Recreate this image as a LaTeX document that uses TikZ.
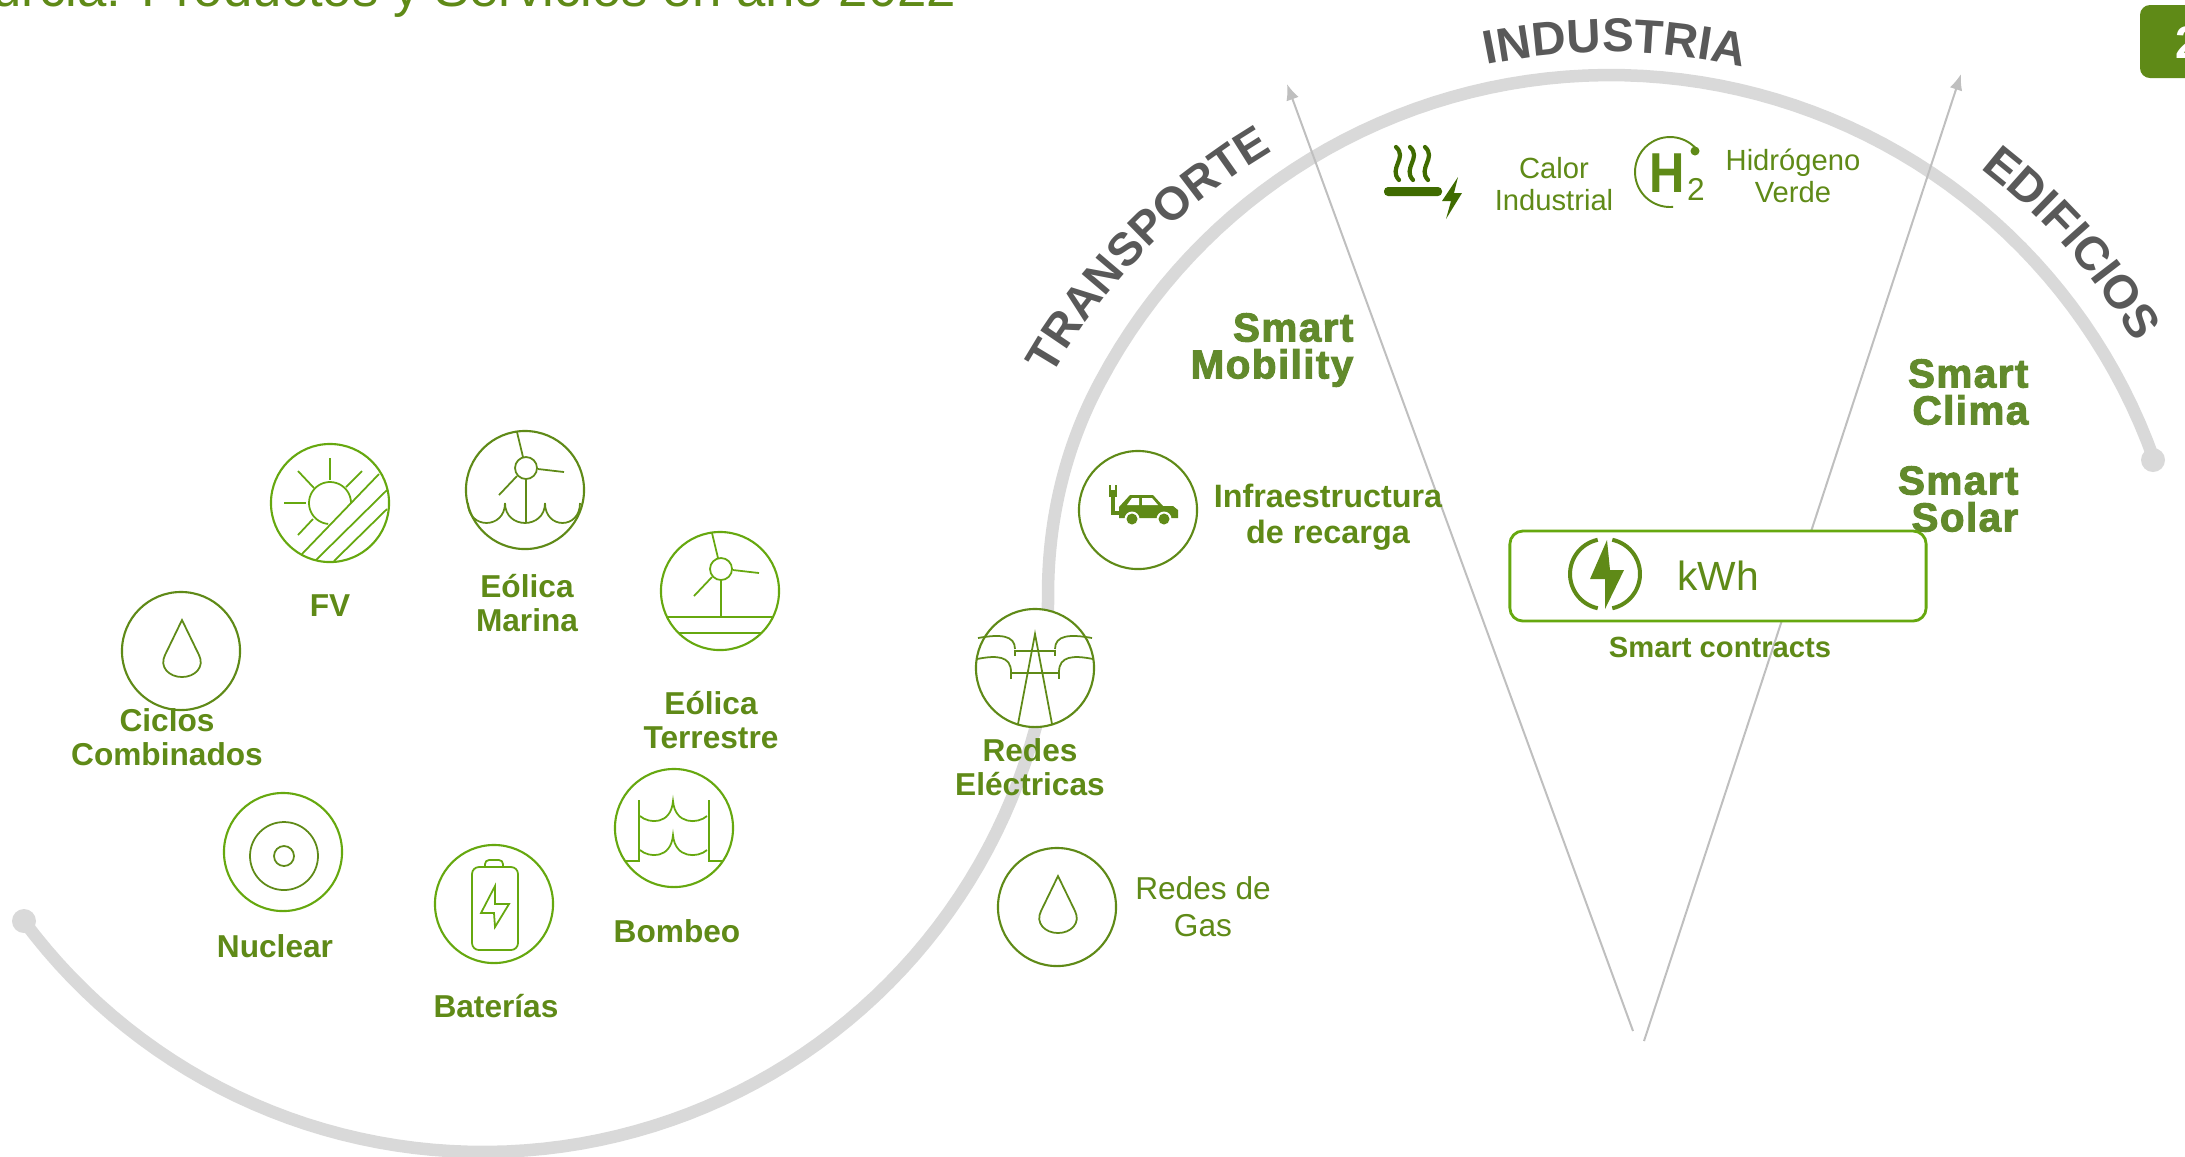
\documentclass[tikz,border=0pt]{standalone}
\usepackage{fontspec}
\usepackage{xcolor}
\usetikzlibrary{arrows.meta}
\usetikzlibrary{decorations.text}
\setmainfont{Liberation Sans}
\newfontfamily\smartfont[FakeBold=2.5,LetterSpace=3.5]{Liberation Sans Bold}
\definecolor{labelgreen}{HTML}{5F8A17}
\definecolor{ringgreen}{HTML}{66A80F}
\definecolor{heatgreen}{HTML}{3F6B00}
\definecolor{smartgreen}{HTML}{628A2C}
\definecolor{arcgrey}{HTML}{D9D9D9}
\definecolor{linegrey}{HTML}{BFBFBF}
\definecolor{wordgrey}{HTML}{595959}
\tikzset{
  iconring/.style={circle,draw=ringgreen,fill=white,line width=0.6pt,minimum size=1.18cm,inner sep=0pt},
  darkring/.style={iconring,draw=labelgreen},
  iconlight/.style={line width=0.5pt,color=ringgreen},
  icondark/.style={line width=0.5pt,color=labelgreen},
  boldlabel/.style={text=labelgreen,font=\bfseries\fontsize{9}{9.75}\selectfont,align=center,inner sep=0pt},
  plainlabel/.style={text=labelgreen,font=\fontsize{8.3}{9.1}\selectfont,align=center,inner sep=0pt},
  smartlabel/.style={text=smartgreen,font=\smartfont\fontsize{11.5}{10.5}\selectfont,align=right,inner sep=0pt},
  sectorline/.style={linegrey,line width=0.02cm,-{Latex[length=0.16cm,width=0.13cm]}},
}
\newcommand{\bowl}[4]{\draw (#1,#3) .. controls (#1,{#3+1.33*(#4-#3)}) and (#2,{#3+1.33*(#4-#3)}) .. (#2,#3);}
\newcommand{\droplet}{\draw (1,-31) -- (-16,4) .. controls (-22,16) and (-12,26) .. (1,26) .. controls (14,26) and (24,16) .. (18,4) -- cycle;}
\newcommand{\turbine}{
  \draw (1,-22) circle[radius=11];
  \draw (1,-11) -- (1,26);
  \draw (-2,-33) -- (-8,-58);
  \draw (13,-21) -- (39,-18);
  \draw (-8,-14) -- (-26,5);
}
\begin{document}
\begin{tikzpicture}[x=0.01cm,y=-0.01cm]
\useasboundingbox (0,0) rectangle (2185,1156);

% title and page mark, both cut by the page
\node (titletext) [anchor=base east,inner sep=0pt,text=labelgreen,font=\fontsize{15}{15}\selectfont] at (957,6) {urcia: Productos y Servicios en año 2022};
\fill[labelgreen,rounded corners=0.1cm] (2140,5) rectangle (2260,78);
\node (pagemark) [anchor=west,inner sep=0pt,text=white,font=\bfseries\fontsize{13}{13}\selectfont] at (2175,43) {2};

% the big grey curve
\draw[arcgrey,line width=0.125cm,line cap=round]
  plot[domain=340.5:208,samples=70] ({1610+577*cos(\x)},{652+577*sin(\x)})
  .. controls (1065,447) and (1048,520) .. (1048,595)
  .. controls (1048,640) and (1047,685) .. (1035.5,728)
  -- plot[domain=15:143.4,samples=70] ({483+572*cos(\x)},{580+572*sin(\x)});
\fill[arcgrey] (24,921) circle[radius=12];
\fill[arcgrey] (2153,460) circle[radius=12];

% sector lines
\coordinate (baseleft) at (1633,1031);
\coordinate (tipleft) at (1287,84);
\coordinate (baseright) at (1644,1041);
\coordinate (tipright) at (1961,74);
\draw[sectorline] (baseleft) -- (tipleft);
\draw[sectorline] (baseright) -- (tipright);

% words on the curve
\path[decorate,decoration={text along path,text align=center,text={|\bfseries\fontsize{13.2}{15}\selectfont\color{wordgrey}|TRANSPORTE}}]
  plot[domain=204.5:244.5,samples=40] ({1586+615*cos(\x)},{680+615*sin(\x)});
\path[decorate,decoration={text along path,text align=center,text={|\bfseries\fontsize{13.5}{15}\selectfont\color{wordgrey}|INDUSTRIA}}]
  plot[domain=250:291,samples=40] ({1610+600*cos(\x)},{652+600*sin(\x)});
\path[decorate,decoration={text along path,text align=center,text={|\bfseries\fontsize{13.4}{15}\selectfont\color{wordgrey}|EDIFICIOS}}]
  plot[domain=302:335,samples=40] ({1610+609*cos(\x)},{652+609*sin(\x)});

% generation
\node (ciclos) [darkring] at (181,651) {};
\node (fv) [iconring] at (330,503) {};
\node (marina) [darkring] at (525,490) {};
\node (terrestre) [iconring] at (720,591) {};
\node (nuclear) [iconring] at (283,852) {};
\node (baterias) [iconring] at (494,904) {};
\node (bombeo) [iconring] at (674,828) {};

\begin{scope}[shift={(ciclos)},icondark]
\droplet
\end{scope}

\begin{scope}[shift={(fv)},iconlight]
\draw plot[domain=0:-265,samples=40] ({21*cos(\x)},{21*sin(\x)});
\draw (0,-45) -- (0,-23);
\draw (-32,-32) -- (-16,-15);
\draw (32,-32) -- (16,-16);
\draw (-46,0) -- (-24,0);
\draw (-32,32) -- (-17,16);
\draw (49,-29) -- (-28,51);
\draw (57,-13) -- (-14,57);
\draw (57,6) -- (4,58);
\end{scope}

\begin{scope}[shift={(marina)},icondark]
\turbine
\draw (1,26) -- (1,33);
\bowl{-57}{-20}{13}{33}
\bowl{-20}{20}{13}{33}
\bowl{20}{55}{13}{33}
\end{scope}

\begin{scope}[shift={(terrestre)},iconlight]
\turbine
\draw (-53,26) -- (53,26);
\draw (-41,42) -- (41,42);
\end{scope}

\begin{scope}[shift={(nuclear)},icondark]
\draw (1,4) circle[radius=34];
\draw (1,4) circle[radius=10];
\end{scope}

\begin{scope}[shift={(baterias)},iconlight]
\draw[rounded corners=0.07cm] (-22,-37) rectangle (24,46);
\draw[rounded corners=0.04cm] (-9,-37) -- (-9,-44) -- (9,-44) -- (9,-37);
\draw (1,-18) -- (-13,9) -- (0,9) -- (1,23) -- (15,0) -- (1,0) -- cycle;
\end{scope}

\begin{scope}[shift={(bombeo)},iconlight]
\draw (-35,-28) -- (-35,33) -- (-49,33);
\draw (35,-28) -- (35,33) -- (49,33);
\draw (-34,-12) .. controls (-25,-4) and (-3,-3) .. (-1,-27) .. controls (1,-3) and (24,-4) .. (33,-12);
\draw (-34,22) .. controls (-25,30) and (-3,31) .. (-1,7) .. controls (1,31) and (24,30) .. (33,22);
\end{scope}

\node (ciclostext) [boldlabel] at (167,737) {Ciclos\\Combinados};
\node (fvtext) [boldlabel] at (330,606) {FV};
\node (marinatext) [boldlabel] at (527,603) {Eólica\\Marina};
\node (terrestretext) [boldlabel] at (711,720) {Eólica\\Terrestre};
\node (nucleartext) [boldlabel] at (275,946) {Nuclear};
\node (bateriastext) [boldlabel] at (496,1006) {Baterías};
\node (bombeotext) [boldlabel] at (677,931) {Bombeo};

% networks
\node (redes) [darkring] at (1035,668) {};
\node (gas) [darkring] at (1057,907) {};
\node (recarga) [darkring] at (1138,510) {};

\begin{scope}[shift={(redes)},icondark]
\draw (-17,56) -- (0,-34) -- (17,56);
\draw (-20,-12) -- (-20,-17) -- (20,-17) -- (20,-12);
\draw (-24,11) -- (-24,5) -- (24,5) -- (24,11);
\draw (-57,-30) .. controls (-35,-34) and (-20,-33) .. (-20,-19);
\draw (57,-30) .. controls (35,-34) and (20,-33) .. (20,-19);
\draw (-58,-9) .. controls (-38,-13) and (-24,-12) .. (-24,4);
\draw (58,-9) .. controls (38,-13) and (24,-12) .. (24,4);
\end{scope}

\begin{scope}[shift={(gas)},icondark]
\droplet
\end{scope}

\begin{scope}[shift={(recarga)}]
\fill[labelgreen] (-19,8) -- (-19,-3) -- (-8,-15) -- (15,-15) -- (25,-4) -- (35,-4) -- (40,0) -- (40,8) -- cycle;
\fill[white] (-11,-5) -- (-6,-12) -- (1,-12) -- (1,-5) -- cycle;
\fill[white] (4,-12) -- (14,-12) -- (20,-5) -- (4,-5) -- cycle;
\fill[white] (-6,9) circle[radius=7.5];
\fill[white] (26,9) circle[radius=7.5];
\fill[labelgreen] (-6,9) circle[radius=5.5];
\fill[labelgreen] (26,9) circle[radius=5.5];
\fill[labelgreen] (-29,-20) rectangle (-21,-13);
\draw[labelgreen,line width=0.6pt] (-28,-25) -- (-28,-20);
\draw[labelgreen,line width=0.6pt] (-22,-25) -- (-22,-20);
\draw[labelgreen,line width=1.1pt] (-25,-13) -- (-25,3) -- (-19,3);
\end{scope}

\node (redestext) [boldlabel] at (1030,767) {Redes\\Eléctricas};
\node (gastext) [plainlabel,font=\fontsize{9}{10.5}\selectfont] at (1203,907) {Redes de\\Gas};
\node (recargatext) [boldlabel,font=\bfseries\fontsize{9.2}{10.2}\selectfont] at (1328,517) {Infraestructura\\de recarga};

% smart words
\node (mobility) [smartlabel,anchor=east] at (1354,350) {Smart\\Mobility};
\node (clima) [smartlabel,anchor=east] at (2029,392) {Smart\\Clima};
\node (solar) [smartlabel,anchor=east] at (2019,499) {Smart\\Solar};

% heat and hydrogen
\fill[heatgreen,rounded corners=0.04cm] (1384,187) rectangle (1442,196);
\foreach \wavex in {1398,1412,1427}{
  \draw[heatgreen,line width=1.2pt,line cap=round] (\wavex-2,147) .. controls (\wavex+10,158) and (\wavex-10,168) .. (\wavex+1,180);
}
\fill[heatgreen] (1458,177) -- (1442,201) -- (1451,201) -- (1446,219) -- (1462,193) -- (1454,193) -- cycle;
\node (calortext) [plainlabel] at (1554,184) {Calor\\Industrial};

\draw[labelgreen,line width=0.55pt] plot[domain=-40:-275,samples=50] ({1670+35*cos(\x)},{172+35*sin(\x)});
\fill[labelgreen] (1695,151) circle[radius=4.5];
\node (hletter) [inner sep=0pt,text=labelgreen,font=\bfseries\fontsize{16}{16}\selectfont] at (1667.5,173.5) {\scalebox{0.87}[1]{H}};
\node (htwo) [inner sep=0pt,text=labelgreen,font=\fontsize{9}{9}\selectfont] at (1696,189) {2};
\node (hidrogenotext) [plainlabel] at (1793,176) {Hidrógeno\\Verde};

% contracts
\node (kwhbox) [draw=ringgreen,fill=white,line width=0.8pt,rounded corners=0.13cm,minimum width=4.16cm,minimum height=0.9cm,inner sep=0pt,text=labelgreen,font=\fontsize{11.6}{11.6}\selectfont] at (1718,576) {kWh};
\fill[labelgreen] (1607,540) -- (1590,579) -- (1605,579) -- (1605,609) -- (1624,570) -- (1610,570) -- cycle;
\draw[labelgreen,line width=0.04cm] plot[domain=-78:78,samples=30] ({1605+35*cos(\x)},{574+35*sin(\x)});
\draw[labelgreen,line width=0.04cm] plot[domain=102:258,samples=30] ({1605+35*cos(\x)},{574+35*sin(\x)});
\node (contractstext) [boldlabel,font=\bfseries\fontsize{8.3}{9}\selectfont] at (1720,647) {Smart contracts};
\end{tikzpicture}
\end{document}
